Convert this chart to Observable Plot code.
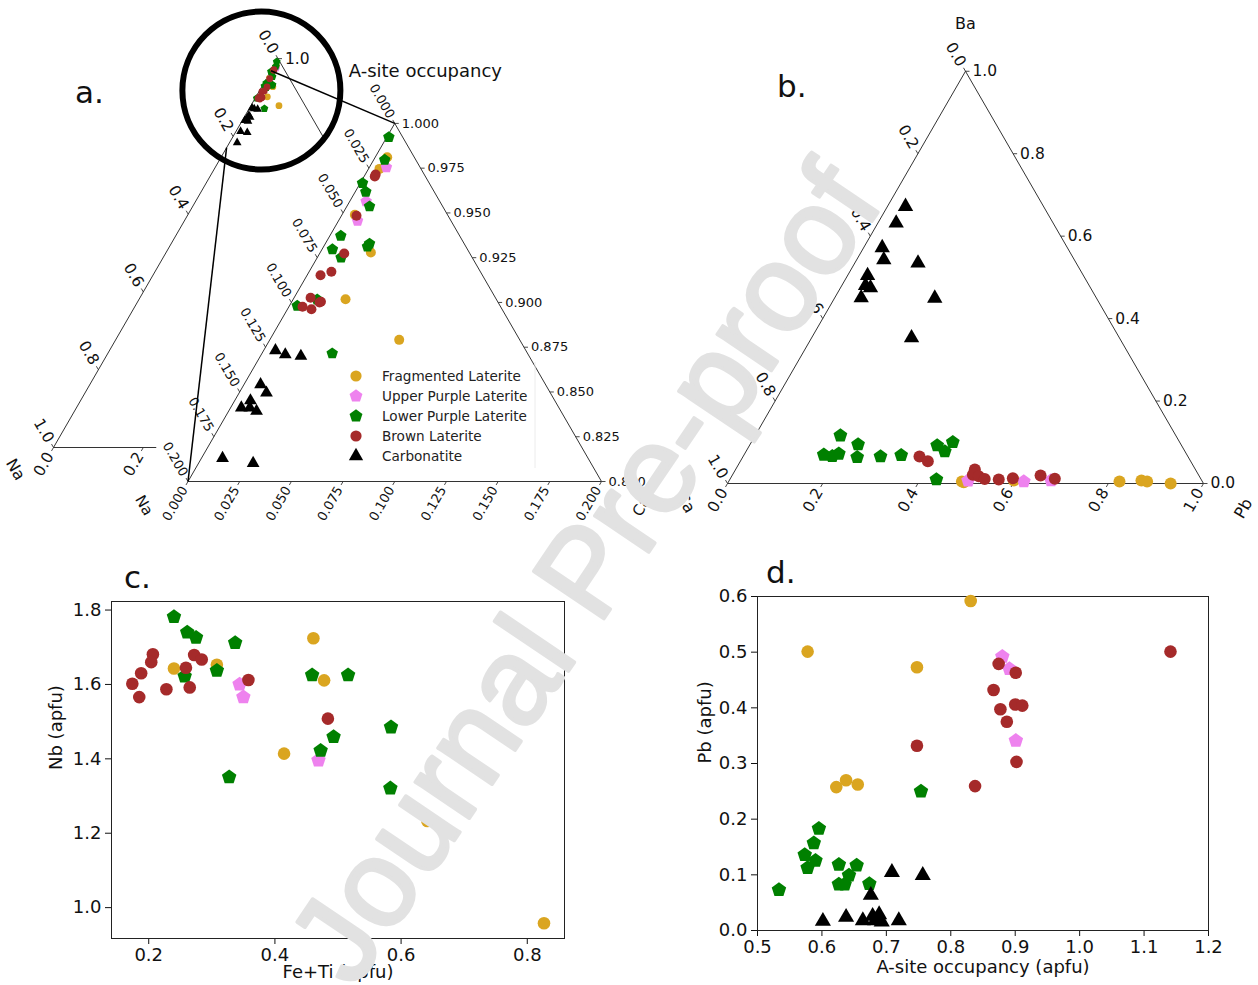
<!DOCTYPE html>
<html><head><meta charset="utf-8">
<script src="https://cdn.jsdelivr.net/npm/d3@7"></script>
<script src="https://cdn.jsdelivr.net/npm/@observablehq/plot@0.6"></script>
<style>
body{margin:0;background:#fff;}
#fig{position:relative;width:1258px;height:985px;overflow:hidden;background:#fff;font-family:"DejaVu Sans",sans-serif;}
.panel{position:absolute;}
#legend{position:absolute;left:346px;top:366px;font-size:13.6px;color:#222;}
#legend .row{height:20px;display:flex;align-items:center;}
#legend svg{width:20px;height:20px;margin-right:16px;}
#overlay{position:absolute;left:0;top:0;pointer-events:none;}
</style></head>
<body><div id="fig"></div>
<script>
// ---------------- DATA ----------------
const groups = ["Fragmented Laterite","Upper Purple Laterite","Lower Purple Laterite","Brown Laterite","Carbonatite"];
const colors = ["#DAA520","#EE82EE","#008000","#A52A2A","#000000"];

// Panel a : ternary (top = A-site occupancy, left = Na, right = Ca) - top and right fractions
const aFragT  = [0.9811,0.9746,0.949,0.9279,0.9018,0.8791];
const aFragR  = [0.0058,0.0053,0.0062,0.0245,0.0253,0.0626];
const aUpperT = [0.9755,0.9565,0.9456];
const aUpperR = [0.0082,0.0079,0.0092];
const aLowerT = [0.9923,0.9797,0.9666,0.9618,0.9536,0.9372,0.9297,0.9328,0.9312,0.9251,0.9016,0.8981,0.8715];
const aLowerR = [0.001,0.0053,0.0011,0.0051,0.011,0.0053,0.005,0.0214,0.0212,0.0115,0.0117,0.0038,0.034];
const aBrownT = [0.9715,0.9703,0.9484,0.9273,0.9152,0.9171,0.9026,0.9004,0.9,0.8976,0.8962];
const aBrownR = [0.005,0.0052,0.0073,0.0119,0.0065,0.0108,0.008,0.0141,0.0136,0.0066,0.0116];
const aCarbT  = [0.8732,0.8709,0.87,0.8542,0.8495,0.8452,0.8412,0.8412,0.8393,0.813,0.8102,0.784];
const aCarbR  = [0.0057,0.0116,0.0196,0.008,0.0132,0.0076,0.0052,0.0093,0.0135,0.0102,0.0264,0.017];

// Panel b : ternary (top = Ba, left = Ca, right = Pb)
const bFragT  = [0.005,0.003,0.0073,0.005,0.0073,0.005,0.0];
const bFragR  = [0.49,0.495,0.598,0.821,0.866,0.879,0.931];
const bUpperT = [0.007,0.005,0.0073];
const bUpperR = [0.502,0.62,0.676];
const bLowerT = [0.1164,0.0696,0.0663,0.072,0.0946,0.0638,0.0655,0.0687,0.0922,0.0776,0.1002,0.0097];
const bLowerR = [0.179,0.1675,0.187,0.1978,0.227,0.2406,0.2887,0.3306,0.3944,0.4177,0.4232,0.434];
const bBrownT = [0.0655,0.0541,0.034,0.021,0.0177,0.0107,0.0097,0.0129,0.0194,0.0113];
const bBrownR = [0.3706,0.3938,0.5026,0.505,0.519,0.535,0.565,0.593,0.648,0.682];
const bCarbT  = [0.672,0.6315,0.572,0.5427,0.5345,0.5046,0.480,0.4748,0.4505,0.4495,0.3535];
const bCarbR  = [0.038,0.0386,0.039,0.057,0.133,0.042,0.050,0.063,0.0556,0.2107,0.2099];

// Panel c : Fe+Ti vs Nb
const cFragX  = [0.240,0.308,0.461,0.478,0.4145,0.6416,0.8265];
const cFragY  = [1.643,1.653,1.724,1.611,1.414,1.233,0.958];
const cUpperX = [0.344,0.350,0.469];
const cUpperY = [1.600,1.566,1.396];
const cLowerX = [0.240,0.261,0.275,0.337,0.257,0.308,0.459,0.516,0.584,0.493,0.4725,0.3275,0.583];
const cLowerY = [1.782,1.740,1.726,1.712,1.622,1.637,1.625,1.625,1.485,1.459,1.422,1.351,1.321];
const cBrownX = [0.2066,0.204,0.188,0.174,0.185,0.228,0.259,0.265,0.272,0.284,0.358,0.484];
const cBrownY = [1.681,1.660,1.630,1.602,1.566,1.587,1.645,1.592,1.679,1.667,1.612,1.508];
const cCarbX  = [];
const cCarbY  = [];

// Panel d : A-site occupancy vs Pb
const dFragX  = [0.8309,0.5778,0.7475,0.6223,0.6375,0.6556];
const dFragY  = [0.592,0.501,0.473,0.2576,0.270,0.2624];
const dUpperX = [0.880,0.891,0.901];
const dUpperY = [0.492,0.470,0.341];
const dLowerX = [0.7537,0.5953,0.5874,0.5733,0.590,0.5778,0.5333,0.6263,0.6539,0.642,0.6263,0.6353,0.6736];
const dLowerY = [0.250,0.183,0.157,0.136,0.1255,0.1124,0.0729,0.1184,0.1172,0.0992,0.0831,0.0831,0.0837];
const dBrownX = [1.141,0.8743,0.9008,0.8664,0.877,0.900,0.911,0.887,0.7475,0.902,0.8377];
const dBrownY = [0.501,0.479,0.463,0.432,0.3975,0.406,0.404,0.375,0.332,0.303,0.2594];
const dCarbX  = [0.7086,0.7565,0.6759,0.6015,0.6375,0.6635,0.6787,0.6888,0.6826,0.6928,0.7193];
const dCarbY  = [0.1046,0.0992,0.0634,0.0167,0.0239,0.0179,0.0257,0.0287,0.0179,0.0155,0.0179];

// Tick values
const bigTicks   = [0,0.2,0.4,0.6,0.8,1.0];
const insetLR    = [0,0.025,0.05,0.075,0.1,0.125,0.15,0.175,0.2];
const insetT     = [0.8,0.825,0.85,0.875,0.9,0.925,0.95,0.975,1.0];
const cXTicks    = [0.2,0.4,0.6,0.8];
const cYTicks    = [1.0,1.2,1.4,1.6,1.8];
const dXTicks    = [0.5,0.6,0.7,0.8,0.9,1.0,1.1,1.2];
const dYTicks    = [0.0,0.1,0.2,0.3,0.4,0.5,0.6];

// ---------------- SYMBOLS ----------------
const pentagon = {draw(ctx, size){
  const R = Math.sqrt(size/2.3776);
  for(let i=0;i<5;i++){const a=-Math.PI/2+i*2*Math.PI/5;const x=R*Math.cos(a),y=R*Math.sin(a); if(i) ctx.lineTo(x,y); else ctx.moveTo(x,y);}
  ctx.closePath();
}};
const symbols = ["circle", pentagon, pentagon, "circle", "triangle"];
const symD3 = [d3.symbolCircle, pentagon, pentagon, d3.symbolCircle, d3.symbolTriangle];
const rScale = [1, 1.05, 1.05, 1, 0.95];
const FONT = "DejaVu Sans";

// ---------------- TERNARY GEOMETRY ----------------
const S3 = Math.sqrt(3)/2;
function makeTri(bl, side, t0){
  const k = 1/(1-t0), h = side*S3;
  return (T,R) => { const t=(T-t0)*k, r=R*k; return [bl[0]+side*(r+t/2), bl[1]-h*t]; };
}
const bigP   = makeTri([53,447], 449, 0);
const insP   = makeTri([187.5,481], 413.5, 0.8);
const bP     = makeTri([727,483], 476, 0);

function triAxes(p, t0, L, B, Rt, fmt, fs){
  const dirs = {l:[-0.5,-S3], b:[-0.5,S3], r:[1,0]};
  const rows = [];
  L.forEach(v => rows.push({side:"l", v, pt:p(1-v,0)}));
  B.forEach(v => rows.push({side:"b", v, pt:p(t0,v)}));
  Rt.forEach(v => rows.push({side:"r", v, pt:p(v,1-v)}));
  rows.forEach(d => {const [dx,dy]=dirs[d.side]; d.x1=d.pt[0]; d.y1=d.pt[1]; d.x2=d.x1+dx*4; d.y2=d.y1+dy*4; d.lx=d.x1+dx*7; d.ly=d.y1+dy*7; d.label=fmt(d.v);});
  const common = {x:"lx", y:"ly", text:"label", fontSize:fs, fill:"#111", fontFamily:FONT};
  return [
    Plot.link(rows, {x1:"x1",y1:"y1",x2:"x2",y2:"y2", stroke:"#333", strokeWidth:0.9}),
    Plot.text(rows.filter(d=>d.side==="l"), {...common, rotate:60, textAnchor:"end"}),
    Plot.text(rows.filter(d=>d.side==="b"), {...common, rotate:-60, textAnchor:"end"}),
    Plot.text(rows.filter(d=>d.side==="r"), {...common, textAnchor:"start"})
  ];
}
function edge(pts){ return Plot.line(pts, {x:d=>d[0], y:d=>d[1], stroke:"#333", strokeWidth:1}); }

function ternDots(Ts, Rs, p, r, filter){
  const marks = [];
  Ts.forEach((T, gi) => {
    let pts = T.map((t,i)=>({T:t, R:Rs[gi][i], xy:p(t, Rs[gi][i])}));
    if (filter) pts = pts.filter(filter);
    marks.push(Plot.dot(pts, {x:d=>d.xy[0], y:d=>d.xy[1], r:r*rScale[gi], fill:colors[gi], stroke:"none", symbol:symbols[gi]}));
  });
  return marks;
}
const aT = [aFragT,aUpperT,aLowerT,aBrownT,aCarbT], aR = [aFragR,aUpperR,aLowerR,aBrownR,aCarbR];
const bT = [bFragT,bUpperT,bLowerT,bBrownT,bCarbT], bR = [bFragR,bUpperR,bLowerR,bBrownR,bCarbR];

const f1 = d3.format(".1f"), f3 = d3.format(".3f");
const lab = (xy, dx, dy, text, opts={}) => Plot.text([{x:xy[0]+dx, y:xy[1]+dy, text}], {x:"x", y:"y", text:"text", fontSize:16, fontFamily:FONT, fill:"#111", ...opts});

const ternary = Plot.plot({
  width:1258, height:530, margin:0,
  x:{domain:[0,1258], range:[0,1258], axis:null},
  y:{domain:[0,530], range:[0,530], axis:null},
  style:{fontFamily:FONT, background:"transparent", overflow:"visible", color:"#111"},
  marks:[
    // big triangle (panel a)
    edge([bigP(1,0), bigP(0,0)]),
    edge([bigP(1,0), bigP(0.8,0.2)]),
    edge([bigP(0,0), bigP(0,0.228)]),
    ...triAxes(bigP, 0, bigTicks, [0,0.2], [1.0], f1, 15.5),
    ...ternDots(aT, aR, bigP, 3.4),
    lab(bigP(0,0), -38, 22, "Na", {rotate:60}),
    // inset triangle
    edge([insP(1,0), insP(0.8,0), insP(0.8,0.2), insP(1,0)]),
    ...triAxes(insP, 0.8, insetLR, insetLR, insetT, f3, 13),
    ...ternDots(aT, aR, insP, 5, d=>d.T>=0.8),
    lab(insP(0.8,0), -44, 24, "Na", {rotate:60, fontSize:15}),
    lab(insP(0.8,0.2), 40, 25, "Ca", {rotate:-60, fontSize:15}),
    lab(insP(1,0), -46, -52, "A-site occupancy", {textAnchor:"start", fontSize:18}),
    // zoom decorations
    Plot.dot([bigP(0.918,0.004)], {x:d=>d[0], y:d=>d[1], r:79, fill:"none", stroke:"black", strokeWidth:6}),
    Plot.link([{a:bigP(0.969,0), b:insP(1,0)}, {a:bigP(0.771,0), b:insP(0.8,0)}],
      {x1:d=>d.a[0], y1:d=>d.a[1], x2:d=>d.b[0], y2:d=>d.b[1], stroke:"black", strokeWidth:1.5}),
    // panel b
    edge([bP(1,0), bP(0,0), bP(0,1), bP(1,0)]),
    ...triAxes(bP, 0, bigTicks, bigTicks, bigTicks, f1, 15.5),
    ...ternDots(bT, bR, bP, 6),
    lab(bP(1,0), 0, -47, "Ba"),
    lab(bP(0,1), 40, 25, "Pb", {rotate:-60}),
    lab(bP(0,0), -42, 19, "Ca", {rotate:60})
  ]
});
ternary.classList.add("panel"); ternary.style.left="0px"; ternary.style.top="0px";

// ---------------- SCATTER PANELS ----------------
function scatter(Xs, Ys, cfg){
  const dots = [];
  Xs.forEach((X, gi) => {
    const pts = X.map((x,i)=>({x, y:Ys[gi][i]}));
    dots.push(Plot.dot(pts, {x:"x", y:"y", r:6.3*rScale[gi], fill:colors[gi], stroke:"none", symbol:symbols[gi]}));
  });
  const p = Plot.plot({
    width:cfg.width, height:425,
    marginLeft:cfg.ml, marginRight:cfg.mr, marginTop:cfg.mt, marginBottom:cfg.mb,
    style:{fontFamily:FONT, fontSize:"18px", color:"#111", background:"transparent", overflow:"visible"},
    x:{domain:cfg.xd, ticks:cfg.xt, tickFormat:".1f", label:null, tickSize:6, tickPadding:4},
    y:{domain:cfg.yd, ticks:cfg.yt, tickFormat:".1f", label:null, tickSize:6, tickPadding:4},
    marks:[
      Plot.frame({stroke:"#222", strokeWidth:1}),
      ...dots,
      Plot.text([cfg.xl], {frameAnchor:"bottom", dy:cfg.xlo, fontSize:18, fill:"#111"}),
      Plot.text([cfg.yl], {frameAnchor:"left", dx:-cfg.ylo, rotate:-90, fontSize:18, fill:"#111"})
    ]
  });
  p.classList.add("panel"); p.style.left=cfg.left+"px"; p.style.top="560px";
  return p;
}
const plotC = scatter([cFragX,cUpperX,cLowerX,cBrownX,cCarbX],[cFragY,cUpperY,cLowerY,cBrownY,cCarbY],
  {width:600, ml:111, mr:36, mt:41, mb:47, left:0, xd:[0.141,0.859], yd:[0.917,1.823], xt:cXTicks, yt:cYTicks,
   xl:"Fe+Ti (apfu)", yl:"Nb (apfu)", xlo:39, ylo:55});
const plotD = scatter([dFragX,dUpperX,dLowerX,dBrownX,dCarbX],[dFragY,dUpperY,dLowerY,dBrownY,dCarbY],
  {width:618, ml:117, mr:50, mt:36, mb:55, left:640, xd:[0.5,1.2], yd:[0,0.6], xt:dXTicks, yt:dYTicks,
   xl:"A-site occupancy (apfu)", yl:"Pb (apfu)", xlo:42, ylo:52});

const fig = document.getElementById("fig");
fig.appendChild(ternary); fig.appendChild(plotC); fig.appendChild(plotD);

// ---------------- LEGEND ----------------
const legend = document.createElement("div"); legend.id = "legend";
groups.forEach((g, gi) => {
  const row = document.createElement("div"); row.className = "row";
  const size = Math.PI*Math.pow(5.6*rScale[gi],2);
  row.innerHTML = `<svg viewBox="-10 -10 20 20"><path d="${d3.symbol(symD3[gi], size)()}" fill="${colors[gi]}"/></svg><span>${g}</span>`;
  legend.appendChild(row);
});
fig.appendChild(legend);

// ---------------- OVERLAY (panel letters + watermark) ----------------
const NS = "http://www.w3.org/2000/svg";
const ov = document.createElementNS(NS, "svg");
ov.setAttribute("id","overlay"); ov.setAttribute("width",1258); ov.setAttribute("height",985);
ov.innerHTML = `
 <line x1="535" y1="362" x2="535" y2="468" stroke="#ececec" stroke-width="1"/>
 <g font-family="DejaVu Sans" font-size="31" fill="#111">
  <text x="75" y="103">a.</text>
  <text x="777" y="97">b.</text>
  <text x="124" y="588">c.</text>
  <text x="766" y="583">d.</text>
 </g>
 <text x="584" y="572" font-family="Liberation Sans, Arial, sans-serif" font-size="123" fill="#e2e2e2"
   stroke="#e2e2e2" stroke-width="3.5" stroke-linejoin="round"
   text-anchor="middle" dominant-baseline="central" transform="rotate(-56 584 572)">Journal Pre-proof</text>`;
fig.appendChild(ov);
</script></body></html>
